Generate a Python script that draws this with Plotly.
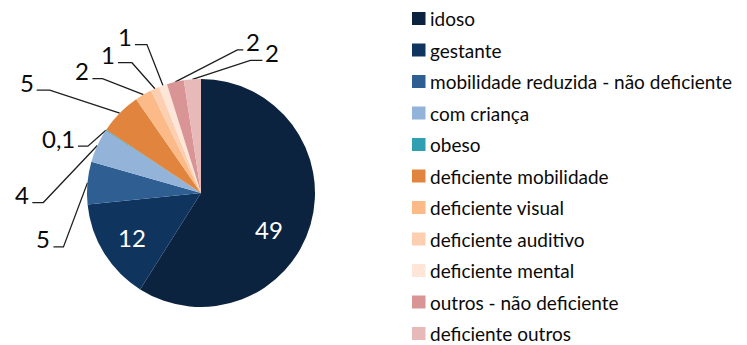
import math
import plotly.graph_objects as go

# Atendimentos por tipo de prioridade
categorias = [
    "idoso", "gestante", "mobilidade reduzida - não deficiente", "com criança",
    "obeso", "deficiente mobilidade", "deficiente visual", "deficiente auditivo",
    "deficiente mental", "outros - não deficiente", "deficiente outros",
]
valores = [49, 12, 5, 4, 0.1, 5, 2, 1, 1, 2, 2]
rotulos = ["49", "12", "5", "4", "0,1", "5", "2", "1", "1", "2", "2"]
cores = [
    "#0c2340", "#0f355e", "#2e5e92", "#93b3d8", "#2f9fb2", "#e0843e",
    "#fbba88", "#fccfb1", "#fde6d8", "#d99495", "#e7b9b9",
]

W, H = 747, 345
CX, CY, R = 201, 193, 114          # pie centre and radius in px
FONT = "Lato"
TXT = "#0a0a0a"

# inside labels: (radius fraction, angle shift in degrees)
inside = {0: (0.68, 12), 1: (0.72, -1)}
# leader-line layout for the outside labels: (elbow dx, elbow dy, stub length)
leader = {
    2: (-24, 64, -10),
    3: (-54, 57, -11),
    4: (-18, 16, -10),
    5: (-70, -23, -13),
    6: (-41, -16, -10),
    7: (-23, -26, -14),
    8: (-16, -41, -12),
    9: (62, -32, 6),
    10: (58, -19, 12),
}

fig = go.Figure()

fig.add_trace(go.Pie(
    labels=categorias,
    values=valores,
    textinfo="none",
    marker=dict(colors=cores, line=dict(width=0)),
    sort=False,
    direction="clockwise",
    rotation=0,
    showlegend=False,
    hoverinfo="label+value",
    domain=dict(x=[(CX - R) / W, (CX + R) / W],
                y=[(H - CY - R) / H, (H - CY + R) / H]),
))

# value labels, placed from each slice's mid-angle
total = sum(valores)
acc = 0.0
annotations = []
for i, v in enumerate(valores):
    mid = (acc + v / 2) / total * 2 * math.pi
    acc += v
    if i in inside:
        frac, shift = inside[i]
        a = mid + math.radians(shift)
        annotations.append(dict(
            x=CX + frac * R * math.sin(a), y=CY - frac * R * math.cos(a),
            xref="x", yref="y", text=rotulos[i], showarrow=False,
            xanchor="center", yanchor="middle",
            font=dict(family=FONT, size=24, color="white"),
        ))
        continue
    ax = CX + R * math.sin(mid)
    ay = CY - R * math.cos(mid)
    dx, dy, stub = leader[i]
    ex, ey = ax + dx, ay + dy
    sx = ex + stub
    fig.add_trace(go.Scatter(
        x=[ax, ex, sx], y=[ay, ey, ey], mode="lines",
        line=dict(color="#1e1e1e", width=1.3),
        hoverinfo="skip", showlegend=False,
    ))
    left = stub < 0
    annotations.append(dict(
        x=sx + (-1 if left else 1), y=ey - 8, xref="x", yref="y",
        text=rotulos[i], showarrow=False,
        xanchor="right" if left else "left", yanchor="middle",
        font=dict(family=FONT, size=24, color=TXT),
    ))

# legend: swatch + label per category
shapes = []
for i, (nome, cor) in enumerate(zip(categorias, cores)):
    yc = 18.5 + 31.5 * i
    shapes.append(dict(
        type="rect", xref="x", yref="y",
        x0=412, x1=425.5, y0=yc - 6.5, y1=yc + 6.5,
        fillcolor=cor, line=dict(width=0),
    ))
    annotations.append(dict(
        x=428, y=yc, xref="x", yref="y", text=nome, showarrow=False,
        xanchor="left", yanchor="middle",
        font=dict(family=FONT, size=19, color=TXT),
    ))

fig.update_layout(
    width=W, height=H,
    margin=dict(l=0, r=0, t=0, b=0),
    paper_bgcolor="white", plot_bgcolor="rgba(0,0,0,0)",
    xaxis=dict(range=[0, W], visible=False, fixedrange=True),
    yaxis=dict(range=[H, 0], visible=False, fixedrange=True),
    shapes=shapes,
    annotations=annotations,
    showlegend=False,
)

fig.write_html("out.html")
